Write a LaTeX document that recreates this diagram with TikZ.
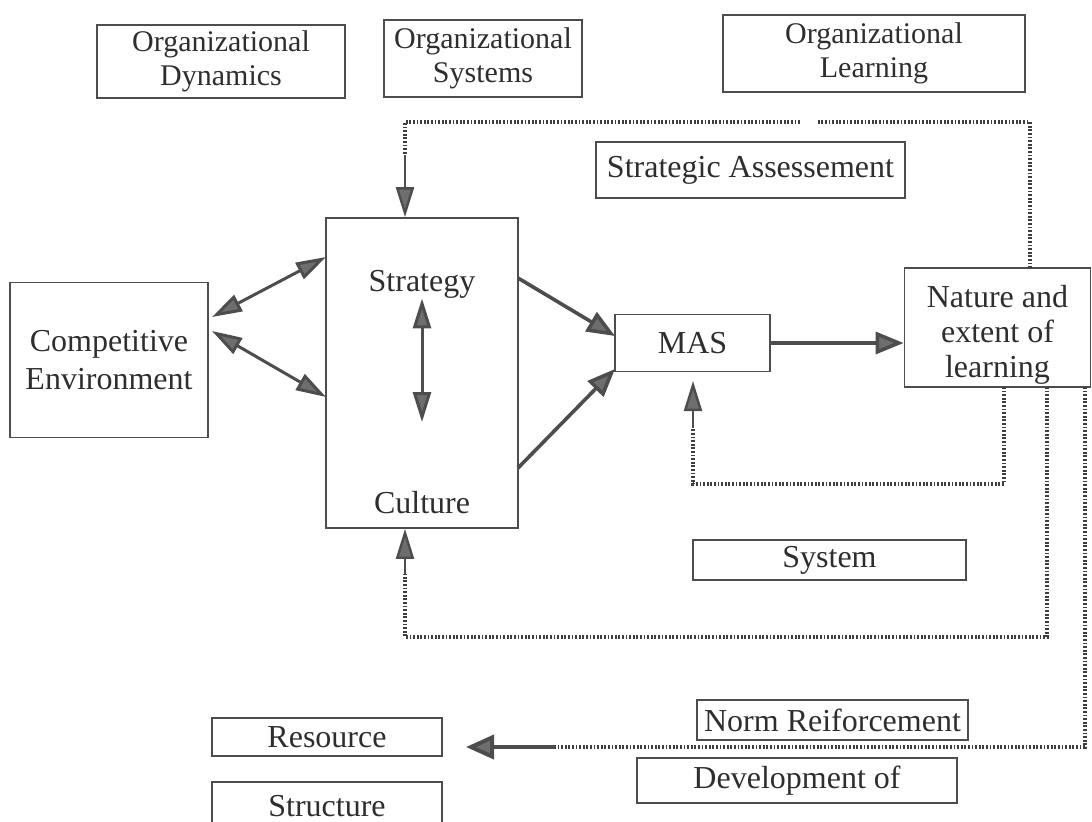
\documentclass[tikz,border=0pt]{standalone}
\usepackage{fontspec}
\setmainfont{Liberation Serif}
\usetikzlibrary{arrows.meta, calc}
\definecolor{linegray}{HTML}{4D4D4D}
\definecolor{headgray}{HTML}{6E6E6E}
\definecolor{inkgray}{HTML}{2E2E2E}

\begin{document}
\begin{tikzpicture}[x=0.5pt, y=-0.5pt,
  box/.style={draw=linegray, line width=0.9pt, inner sep=0pt, align=center, text=inkgray, font=\fontsize{16}{19}\selectfont},
  topbox/.style={box, font=\fontsize{15}{17}\selectfont},
  lbl/.style={inner sep=0pt, align=center, text=inkgray, font=\fontsize{16}{19}\selectfont},
  arr/.style={draw=linegray, line width=1.8pt, -{Triangle[length=14pt, width=11pt, fill=headgray]}},
  biarr/.style={draw=linegray, line width=1.5pt, {Triangle[length=15pt, width=9pt, fill=headgray]}-{Triangle[length=15pt, width=9pt, fill=headgray]}},
  dotline/.style={draw=linegray!80!black, line width=1.7pt, dash pattern=on 0.9pt off 0.9pt},
  back/.style={draw=linegray, line width=1.2pt, -{Triangle[length=15pt, width=9pt, fill=headgray]}},
]
\useasboundingbox (0,0) rectangle (1092,821);
\clip (0,0) rectangle (1092,821);

% top row
\node[topbox, minimum width=124pt, minimum height=36.5pt] (orgdyn) at (221,61.5) {Organizational\\Dynamics};
\node[topbox, minimum width=99pt, minimum height=38.5pt] (orgsys) at (483,58.5) {Organizational\\Systems};
\node[topbox, minimum width=151pt, minimum height=38.5pt] (orglearn) at (874,53.5) {Organizational\\Learning};
\node[box, minimum width=154.5pt, minimum height=28pt] (stratass) at (750.5,170) {Strategic Assessement};

% main row
\node[box, minimum width=99pt, minimum height=77.5pt] (comp) at (109,360) {Competitive\\Environment};
\node[box, minimum width=96pt, minimum height=155pt] (strat) at (422,373) {};
\node[lbl] (stratlbl) at (422,284) {Strategy};
\node[lbl] (cultlbl) at (422,503) {Culture};
\node[box, minimum width=77.5pt, minimum height=28.5pt] (mas) at (692.5,343) {MAS};
\node[box, minimum width=93pt, minimum height=59.5pt] (nature) at (997.5,327.5) {};
\node[lbl, font=\fontsize{16}{17.5}\selectfont] (naturelbl) at (997.5,335) {Nature and\\extent of\\learning};

% lower boxes
\node[box, minimum width=136.5pt, minimum height=20pt] (system) at (829.5,560) {System};
\node[box, minimum width=135.5pt, minimum height=20pt] (norm) at (832.5,720) {Norm Reiforcement};
\node[box, minimum width=115pt, minimum height=19pt] (resource) at (327,737) {Resource};
\node[box, minimum width=115pt, minimum height=24pt] (structure) at (327,806) {Structure};
\node[box, minimum width=160pt, minimum height=22.5pt] (devel) at (797,780.5) {Development of};

% solid links
\coordinate (compA) at (212,317);
\coordinate (compB) at (212,331);
\coordinate (stratA) at (326,257);
\coordinate (stratB) at (326,397);
\draw[biarr] (compA) -- (stratA);
\draw[biarr] (compB) -- (stratB);
\coordinate (innerlow) at (422,422);
\draw[biarr] (stratlbl.south) -- (innerlow);
\coordinate (outA) at (518,278);
\coordinate (outB) at (518,468);
\coordinate (masA) at (615,336);
\coordinate (masB) at (615,369);
\draw[arr] (outA) -- (masA);
\draw[arr] (outB) -- (masB);
\draw[arr] (mas.east) -- (mas.east -| nature.west);

% feedback from learning to strategy
\coordinate (nA) at (1030,268);
\coordinate (cA) at (1030,122);
\coordinate (gapR) at (818,122);
\coordinate (gapL) at (800,122);
\coordinate (cB) at (405,122);
\coordinate (sA) at (405,155);
\draw[dotline] (nA) -- (cA) -- (gapR);
\draw[dotline] (gapL) -- (cB) -- (sA);
\draw[back] (sA) -- (sA |- strat.north);

% feedback to MAS
\coordinate (nB) at (1004,387);
\coordinate (cC) at (1004,484);
\coordinate (cD) at (693,484);
\coordinate (sB) at (693,428);
\coordinate (mB) at (693,381);
\draw[dotline] (nB) -- (cC) -- (cD) -- (sB);
\draw[back] (sB) -- (mB);

% feedback to culture
\coordinate (nC) at (1047,387);
\coordinate (cE) at (1047,637);
\coordinate (cF) at (405,637);
\coordinate (sC) at (405,574);
\draw[dotline] (nC) -- (cE) -- (cF) -- (sC);
\draw[back] (sC) -- (sC |- strat.south);

% norm reinforcement to resource
\coordinate (nD) at (1085,387);
\coordinate (cG) at (1085,747);
\coordinate (sD) at (555,747);
\coordinate (rA) at (466,747);
\draw[dotline] (nD) -- (cG) -- (sD);
\draw[back, line width=2pt, -{Triangle[length=14pt, width=12pt, fill=headgray]}] (sD) -- (rA);

\end{tikzpicture}
\end{document}
